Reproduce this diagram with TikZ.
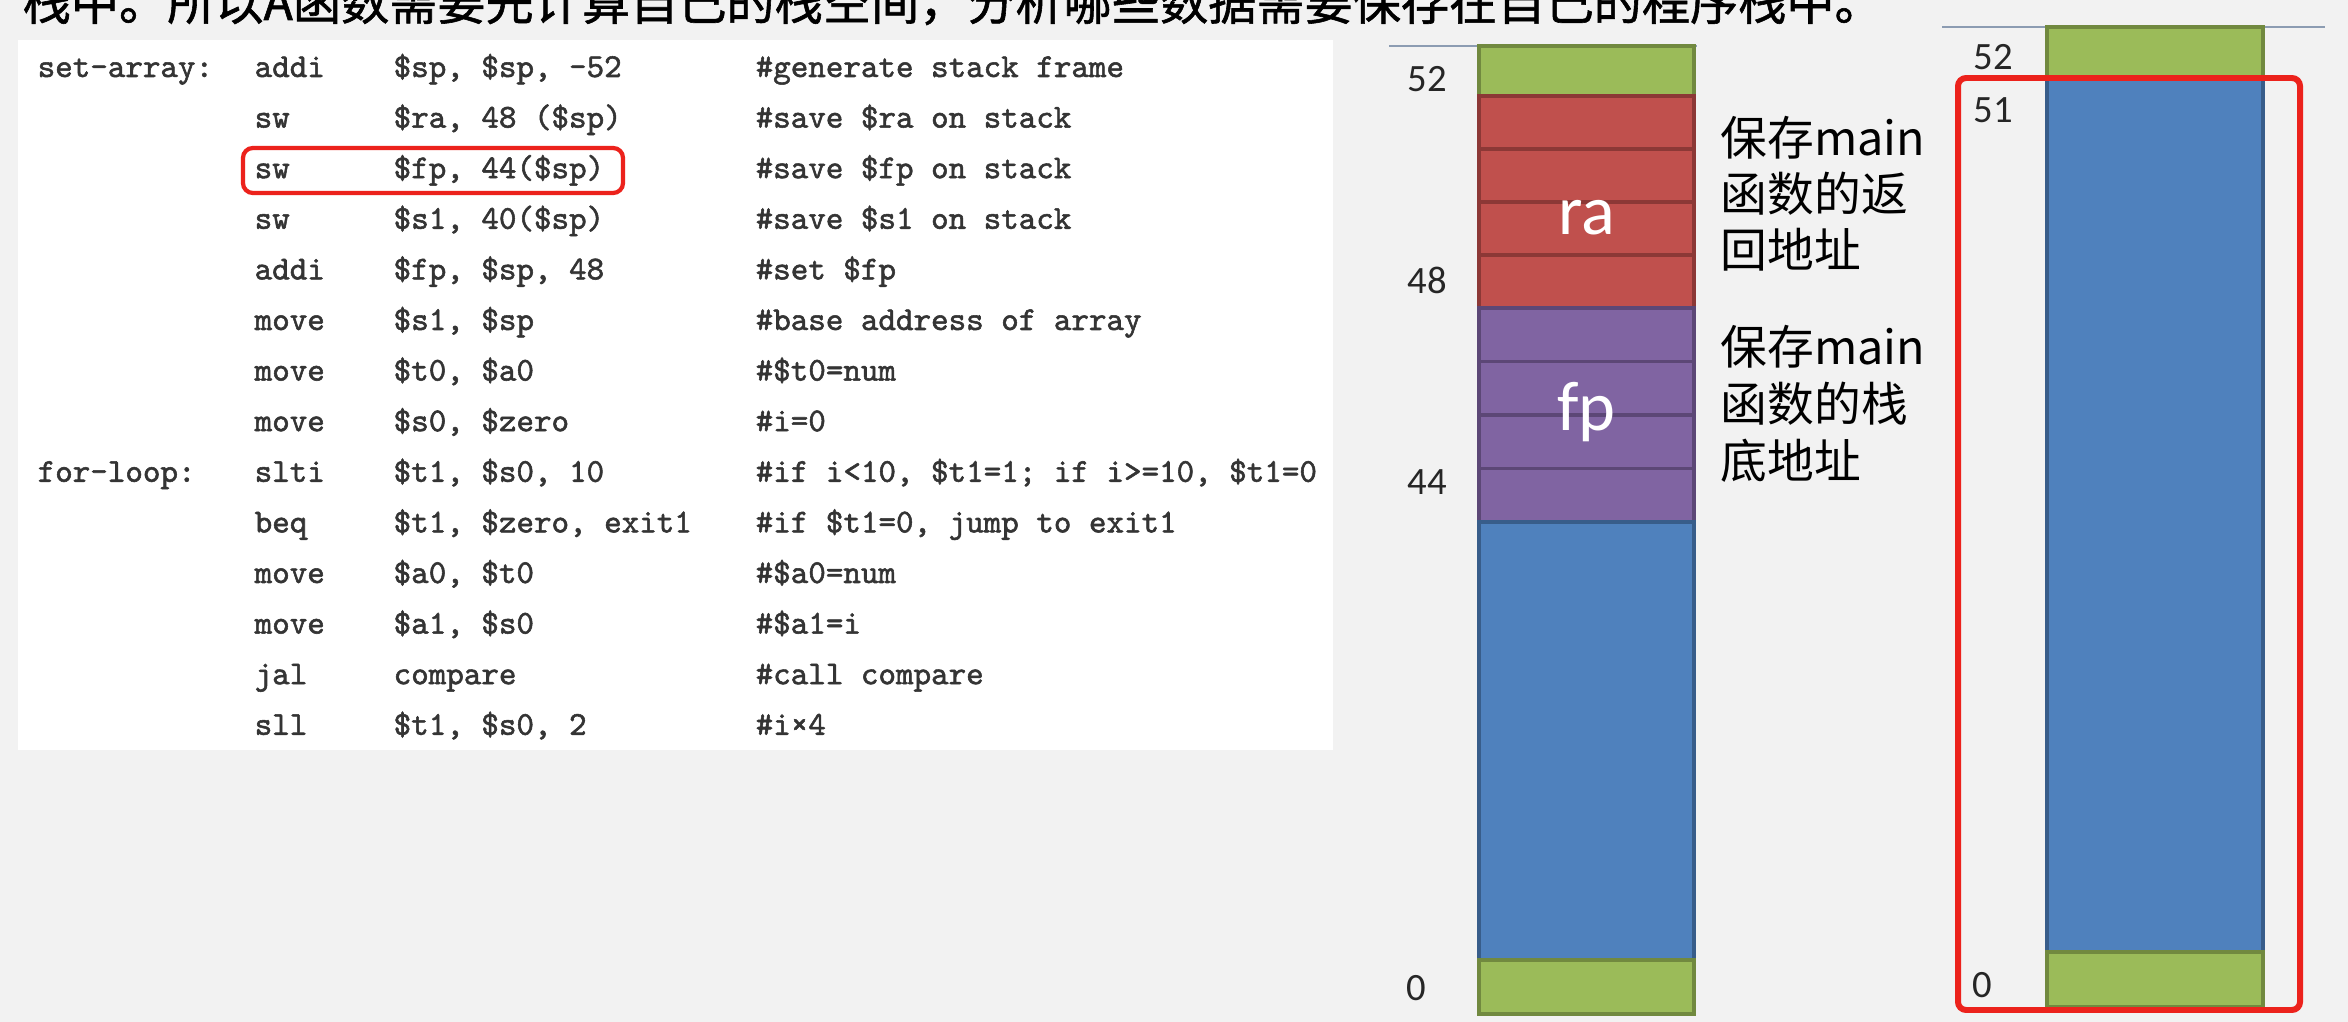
\documentclass[tikz,border=0pt]{standalone}
\usepackage{fontspec}
\setmainfont{Carlito}
\newfontfamily\cjkfont{Noto Sans CJK SC}
\newfontfamily\introfont{Noto Sans CJK SC}[FakeBold=1.2]
\newfontfamily\codefont{lmmono10-regular.otf}[FakeBold=1.6]
\usepackage{tikz}
\usetikzlibrary{positioning}
\usepackage{xcolor}
\definecolor{bggray}{RGB}{242,242,242}
\definecolor{codegray}{RGB}{52,52,52}
\definecolor{markred}{RGB}{236,34,28}
\definecolor{rulegray}{RGB}{140,156,178}
\definecolor{cellgreen}{RGB}{155,187,89}
\definecolor{cellgreenline}{RGB}{113,137,63}
\definecolor{cellred}{RGB}{192,80,77}
\definecolor{cellredline}{RGB}{140,56,54}
\definecolor{cellpurple}{RGB}{128,100,162}
\definecolor{cellpurpleline}{RGB}{92,71,118}
\definecolor{cellblue}{RGB}{79,129,189}
\definecolor{cellblueline}{RGB}{56,93,138}
\tikzset{
  code/.style={anchor=base west, inner sep=0pt, text=codegray,
               font=\codefont\fontsize{9.5}{11}\selectfont},
  intro/.style={anchor=base west, inner sep=0pt, font=\introfont\fontsize{13.7}{16}\selectfont},
  note/.style={anchor=base west, inner sep=0pt, font=\cjkfont\fontsize{13.3}{16}\selectfont},
  addr/.style={anchor=base west, inner sep=0pt, text=black!85, font=\fontsize{11}{13}\selectfont},
  cellname/.style={anchor=base, inner sep=0pt, text=white, font=\fontsize{20}{24}\selectfont},
  greencell/.style={fill=cellgreen, draw=cellgreenline, line width=1.1pt},
  redcell/.style={fill=cellred, draw=cellredline, line width=1.1pt},
  purplecell/.style={fill=cellpurple, draw=cellpurpleline, line width=1.1pt},
  bluecell/.style={fill=cellblue, draw=cellblueline, line width=1.1pt},
  topline/.style={rulegray, line width=0.6pt},
  hilite/.style={draw=markred, line width=1.2pt, rounded corners=2.8pt},
  frame/.style={draw=markred, line width=1.7pt, rounded corners=2.3pt},
}

\begin{document}
\begin{tikzpicture}[x=0.01cm, y=-0.01cm]
\useasboundingbox (0,0) rectangle (2348,1022);
\clip (0,0) rectangle (2348,1022);
\fill[bggray] (0,0) rectangle (2348,1022);

% sentence cut off at the top
\node[intro] (introline) at (22,20) {栈中。所以A函数需要先计算自己的栈空间，分析哪些数据需要保存在自己的程序栈中。};

% assembly listing
\fill[white] (18,40) rectangle (1333,750);
\node[code] (setarray) at (37,77) {set-array:};
\node[code] (forloop) at (37,481.8) {for-loop:};
\foreach \op/\arg/\cmt [count=\r] in {
  addi/{\$sp, \$sp, -52}/{\#generate stack frame},
  sw/{\$ra, 48 (\$sp)}/{\#save \$ra on stack},
  sw/{\$fp, 44(\$sp)}/{\#save \$fp on stack},
  sw/{\$s1, 40(\$sp)}/{\#save \$s1 on stack},
  addi/{\$fp, \$sp, 48}/{\#set \$fp},
  move/{\$s1, \$sp}/{\#base address of array},
  move/{\$t0, \$a0}/{\#\$t0=num},
  move/{\$s0, \$zero}/{\#i=0},
  slti/{\$t1, \$s0, 10}/{\#if i<10, \$t1=1; if i>=10, \$t1=0},
  beq/{\$t1, \$zero, exit1}/{\#if \$t1=0, jump to exit1},
  move/{\$a0, \$t0}/{\#\$a0=num},
  move/{\$a1, \$s0}/{\#\$a1=i},
  jal/compare/{\#call compare},
  sll/{\$t1, \$s0, 2}/{\#i×4}}
{
  \node[code] (op\r) at (254,{77+(\r-1)*50.6}) {\op};
  \node[code] (arg\r) at (393,{77+(\r-1)*50.6}) {\arg};
  \node[code] (cmt\r) at (755,{77+(\r-1)*50.6}) {\cmt};
}
\draw[hilite] (243,148) rectangle (623,193);

% stack frame of set-array
\draw[topline] (1389,46) -- (1697,46);
\filldraw[greencell] (1479,46) rectangle (1694,96);
\foreach \t in {96,149,202,255}
  \filldraw[redcell] (1479,\t) rectangle (1694,\t+53);
\foreach \t in {308,361.5,415,468.5}
  \filldraw[purplecell] (1479,\t) rectangle (1694,\t+53.5);
\filldraw[bluecell] (1479,522) rectangle (1694,960);
\filldraw[greencell] (1479,960) rectangle (1694,1014);
\node[cellname] (ra) at (1586.5,235) {ra};
\node[cellname] (fp) at (1586.5,431) {fp};
\node[addr] (a52) at (1407,92) {52};
\node[addr] (a48) at (1407,294) {48};
\node[addr] (a44) at (1407,495) {44};
\node[addr] (a0) at (1406,1000) {0};
\foreach \txt [count=\k] in {保存main, 函数的返, 回地址}
  \node[note] (ranote\k) at (1720,{156+(\k-1)*56}) {\txt};
\foreach \txt [count=\k] in {保存main, 函数的栈, 底地址}
  \node[note] (fpnote\k) at (1720,{365+(\k-1)*57}) {\txt};

% same frame, bytes 0..51
\draw[topline] (1942,27) -- (2325,27);
\filldraw[greencell] (2047,27) rectangle (2263,78);
\filldraw[bluecell] (2047,78) rectangle (2263,952);
\filldraw[greencell] (2047,952) rectangle (2263,1007);
\node[addr] (b52) at (1973,70) {52};
\node[addr] (b51) at (1973,123) {51};
\node[addr] (b0) at (1972,997) {0};
\draw[frame] (1958,78) rectangle (2300,1010);
\end{tikzpicture}
\end{document}
